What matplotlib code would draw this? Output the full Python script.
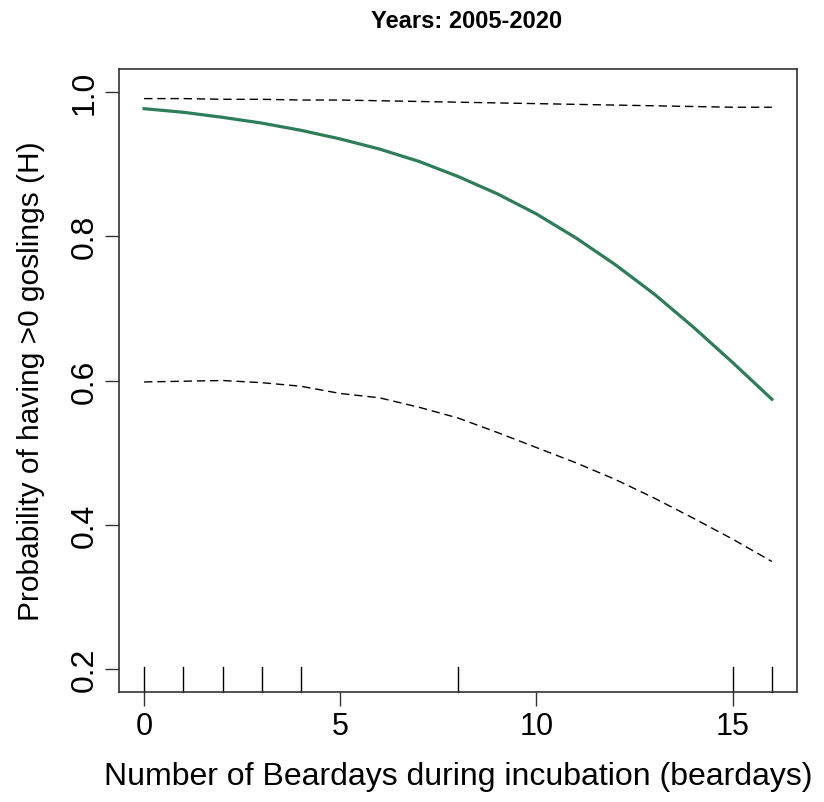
import numpy as np
import matplotlib
matplotlib.use("Agg")
import matplotlib.pyplot as plt

# =========================
# DATA
# =========================
beardays = [0, 1, 2, 3, 4, 5, 6, 7, 8, 9, 10, 11, 12, 13, 14, 15, 16]
prob_fit = [0.977, 0.972, 0.965, 0.957, 0.947, 0.935, 0.921, 0.904, 0.883,
            0.859, 0.831, 0.798, 0.761, 0.720, 0.674, 0.625, 0.574]
ci_upper = [0.991, 0.991, 0.990, 0.990, 0.989, 0.989, 0.988, 0.987, 0.986,
            0.985, 0.984, 0.983, 0.982, 0.981, 0.980, 0.979, 0.979]
ci_lower = [0.598, 0.599, 0.600, 0.597, 0.592, 0.582, 0.576, 0.563, 0.548,
            0.528, 0.507, 0.486, 0.463, 0.437, 0.409, 0.380, 0.349]
rug_x = [0, 1, 2, 3, 4, 8, 15, 16]

x_ticks = [0, 5, 10, 15]
y_ticks = [0.2, 0.4, 0.6, 0.8, 1.0]

plt.rcParams['font.family'] = ['Liberation Sans', 'DejaVu Sans']

fig = plt.figure(figsize=(8.24, 8.03), dpi=100)
ax = fig.add_axes([0.1444, 0.137, 0.8228, 0.7758])

ax.plot(beardays, ci_upper, color='black', lw=1.0, ls=(0, (6, 3.5)))
ax.plot(beardays, ci_lower, color='black', lw=1.0, ls=(0, (6, 3.5)))
ax.plot(beardays, prob_fit, color='#2E7D59', lw=2.3)

# rug
for r in rug_x:
    ax.plot([r, r], [0, 0.04], transform=ax.get_xaxis_transform(),
            color='black', lw=1.0, clip_on=False)

ax.set_xlim(-0.64, 16.64)
ax.set_ylim(0.168, 1.032)
ax.set_xticks(x_ticks)
ax.set_yticks(y_ticks)
ax.set_yticklabels(['0.2', '0.4', '0.6', '0.8', '1.0'], rotation=90, va='center')

for s in ax.spines.values():
    s.set_color('#333333')
    s.set_linewidth(1.2)

ax.tick_params(axis='both', length=10, width=1.0, color='#333333', pad=4)
ax.tick_params(axis='x', labelsize=22)
ax.tick_params(axis='y', labelsize=23)

ax.set_xlabel('Number of Beardays during incubation (beardays)', fontsize=23, labelpad=14)
ax.set_ylabel('Probability of having >0 goslings (H)', fontsize=21.5, labelpad=18)
ax.set_title('Years: 2005-2020', fontsize=17, fontweight='bold', pad=30, x=0.513)

fig.savefig('out.png', dpi=100)
